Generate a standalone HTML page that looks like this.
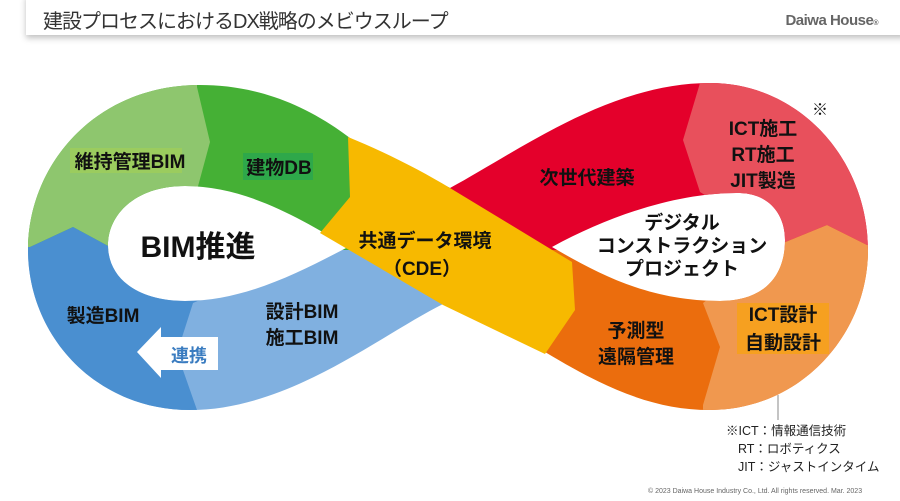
<!DOCTYPE html>
<html><head><meta charset="utf-8"><style>
html,body{margin:0;padding:0;background:#fff;}
body{width:900px;height:501px;overflow:hidden;position:relative;font-family:"Liberation Sans","Noto Sans CJK JP",sans-serif;}
.bar{position:absolute;left:26px;top:-5px;width:880px;height:40px;background:#fff;box-shadow:0 3px 6px rgba(0,0,0,0.25);}
.t{position:absolute;left:43px;top:5px;font-size:20px;color:#333;letter-spacing:-1px;}
.logo{position:absolute;right:22px;top:12px;font-size:15px;font-weight:bold;color:#666;letter-spacing:-0.5px;}
svg{position:absolute;left:0;top:0;}
svg text{font-family:"Liberation Sans","Noto Sans CJK JP",sans-serif;font-weight:bold;fill:#111;text-anchor:middle;}
.fn{position:absolute;font-size:12.5px;color:#222;}
</style></head><body>
<div class="bar"></div>
<div class="t">建設プロセスにおけるDX戦略のメビウスループ</div>
<div class="logo">Daiwa House<span style="font-size:7px">®</span></div>
<svg width="900" height="501" viewBox="0 0 900 501">
<defs>
<clipPath id="band"><path clip-rule="evenodd" d="M350,138 C300,100 250,85 200,85 C95,85 28,165 28,250 C28,335 95,410 190,410 C290,410 380,335 445,303 L545,352 C600,385 650,410 710,410 C800,410 868,335 868,250 C868,160 800,83 710,83 C610,83 520,150 450,188 Z M348,247 C300,218 245,186 185,186 C135,186 108,215 108,245 C108,280 140,301 185,301 C245,301 300,272 348,247 Z M552,247 C610,215 680,192 740,193 C770,194 785,215 785,240 C785,280 760,301 720,301 C650,301 600,275 552,247 Z"/></clipPath>
</defs>
<g clip-path="url(#band)">
<rect x="0" y="0" width="450" height="250" fill="#45b035"/>
<rect x="0" y="250" width="452" height="251" fill="#80b0e0"/>
<rect x="440" y="0" width="460" height="250" fill="#e4002b"/>
<rect x="452" y="250" width="448" height="251" fill="#eb6d0d"/>
<polygon fill="#8ec66e" points="0,0 197,0 197,87 210,142 197,190 110,247 73,227 30,247 0,247"/>
<polygon fill="#4a8fd0" points="0,247 30,247 73,227 110,247 200,300 193,303 177,353 197,410 197,501 0,501"/>
<polygon fill="#e8505c" points="700,0 700,83 683,140 700,192 783,243 827,225 867,245 900,245 900,0"/>
<polygon fill="#f0984f" points="783,243 827,225 867,245 900,245 900,501 703,501 703,405 720,347 703,303"/>
</g>
<path fill="#f7b900" d="M348,137 L350,197 L320,233 L443,305 L545,354 L575,310 L572,262 L450,188 C420,170 385,152 348,137 Z"/>
<rect x="70" y="148" width="112" height="25" fill="#9bcc5e"/>
<rect x="243" y="153" width="70" height="27" fill="#2ea84a"/>
<rect x="737" y="303" width="92" height="51" fill="#f6a020"/>
<text x="130" y="168" font-size="19">維持管理BIM</text>
<text x="279" y="174" font-size="19">建物DB</text>
<text x="198" y="257" font-size="30">BIM推進</text>
<text x="425" y="247" font-size="19">共通データ環境</text>
<text x="422" y="275" font-size="19">（CDE）</text>
<text x="587" y="184" font-size="19">次世代建築</text>
<text x="763" y="135" font-size="19">ICT施工</text>
<text x="763" y="161" font-size="19">RT施工</text>
<text x="763" y="187" font-size="19">JIT製造</text>
<text x="820" y="115" font-size="16" font-weight="normal">※</text>
<g style="paint-order:stroke" stroke="#fff" stroke-width="3">
<text x="682" y="229" font-size="19">デジタル</text>
<text x="682" y="252" font-size="19">コンストラクション</text>
<text x="682" y="275" font-size="19">プロジェクト</text>
</g>
<text x="636" y="337" font-size="19">予測型</text>
<text x="636" y="363" font-size="19">遠隔管理</text>
<text x="783" y="321" font-size="19">ICT設計</text>
<text x="783" y="349" font-size="19">自動設計</text>
<text x="103" y="322" font-size="19">製造BIM</text>
<text x="302" y="318" font-size="19">設計BIM</text>
<text x="302" y="344" font-size="19">施工BIM</text>
<polygon fill="#fff" points="137,352 161,327 161,337 218,337 218,370 161,370 161,378"/>
<text x="189" y="362" font-size="18" style="fill:#3a7cc0">連携</text>
<line x1="778" y1="395" x2="778" y2="420" stroke="#888" stroke-width="1"/>
</svg>
<div class="fn" style="left:726px;top:420px">※ICT：情報通信技術</div>
<div class="fn" style="left:738px;top:438px">RT：ロボティクス</div>
<div class="fn" style="left:738px;top:456px">JIT：ジャストインタイム</div>
<div style="position:absolute;left:648px;top:488px;font-size:7px;color:#666">© 2023 Daiwa House Industry Co., Ltd. All rights reserved.  Mar. 2023</div>
</body></html>
